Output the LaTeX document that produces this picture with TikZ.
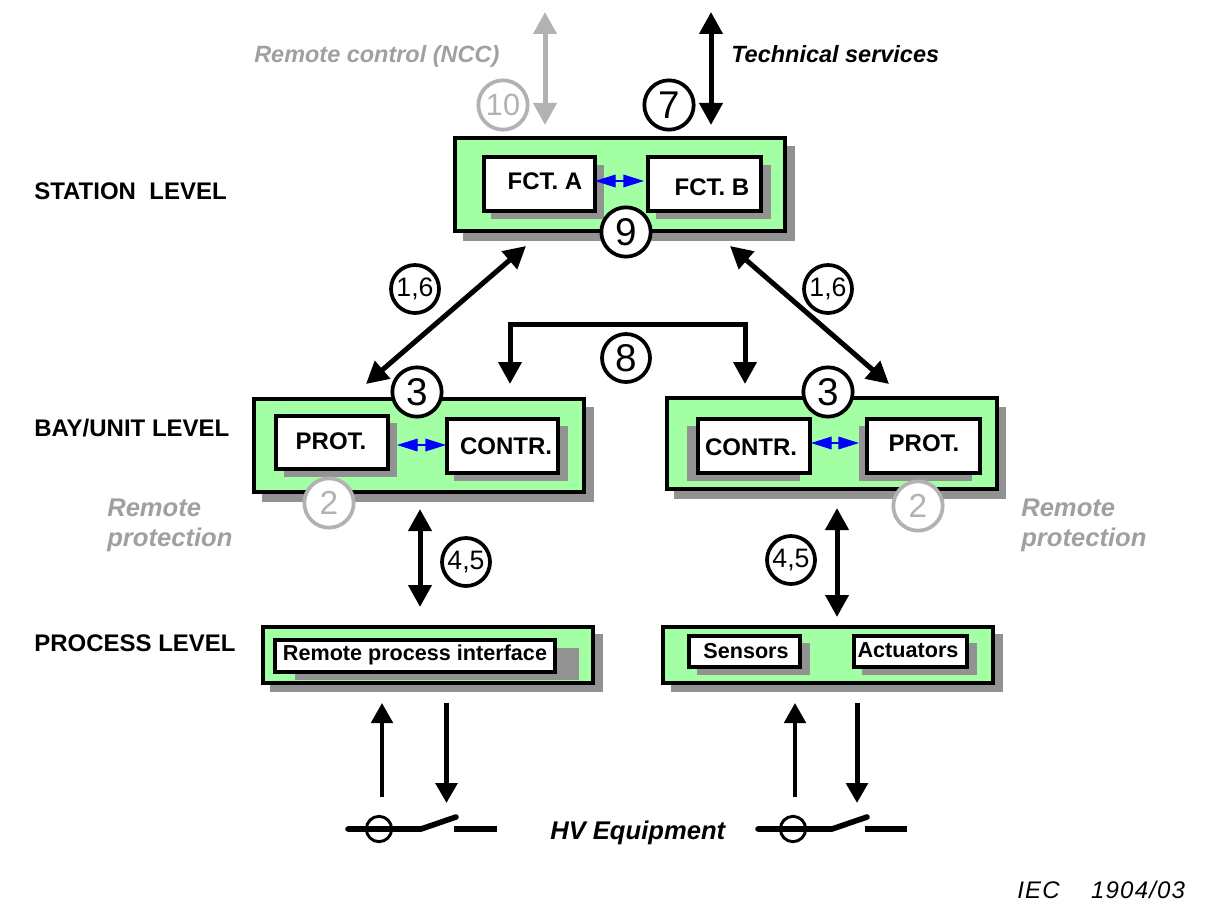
\documentclass[tikz,border=0pt]{standalone}
\usepackage{fontspec}
\setmainfont{Liberation Sans}
\newfontfamily\iecfont[LetterSpace=5]{Liberation Sans}
\usetikzlibrary{arrows.meta}
\definecolor{boxgreen}{HTML}{A3FFA3}
\definecolor{shade}{HTML}{929292}
\definecolor{soft}{HTML}{B2B2B2}
\definecolor{softtext}{HTML}{A0A0A0}
\definecolor{pureblue}{HTML}{0000FF}
\tikzset{
  shadowbox/.style={fill=shade,draw=none,inner sep=0pt,outer sep=0pt},
  levelbox/.style={fill=boxgreen,draw=black,line width=3pt,inner sep=0pt,outer sep=0pt},
  funcbox/.style={fill=white,draw=black,line width=2.6pt,inner sep=0pt,outer sep=0pt},
  funclabel/.style={font=\fontsize{18}{20}\selectfont\bfseries,inner sep=0pt,text=black},
  tinylabel/.style={funclabel,font=\fontsize{16.2}{18}\selectfont\bfseries},
  tag/.style={circle,draw=black,fill=white,line width=2.8pt,minimum size=37pt,inner sep=0pt,font=\fontsize{29}{31}\selectfont},
  smalltag/.style={tag,minimum size=36pt,font=\fontsize{20}{23}\selectfont},
  softtag/.style={tag,draw=soft,text=soft},
  leveltext/.style={anchor=west,inner sep=0pt,font=\fontsize{18}{20}\selectfont\bfseries},
  noteblack/.style={inner sep=0pt,font=\fontsize{17.6}{20}\selectfont\bfseries\itshape},
  notebig/.style={noteblack,anchor=west,font=\fontsize{19.2}{21}\selectfont\bfseries\itshape},
  notegrey/.style={notebig,text=softtext},
  bigarrow/.style={line width=3.75pt,{Triangle[length=16.5pt,width=17pt]}-{Triangle[length=16.5pt,width=17pt]}},
  softarrow/.style={bigarrow,draw=soft,color=soft},
  brarrow/.style={line width=3.75pt,-{Triangle[length=16.5pt,width=17pt]}},
  blueflow/.style={draw=pureblue,line width=1pt,{Triangle[length=15.5pt,width=9.5pt,color=pureblue]}-{Triangle[length=15.5pt,width=9.5pt,color=pureblue]}},
  hvup/.style={line width=3pt,-{Triangle[length=15pt,width=16pt]}},
  hvdown/.style={line width=3.75pt,-{Triangle[length=15pt,width=16pt]}},
  hvline/.style={line width=4.2pt},
  hvring/.style={circle,draw=black,line width=2.2pt,minimum size=19pt,inner sep=0pt},
}
\newcommand{\rbox}[6]{%
  \pgfmathsetmacro\rw{(#5-#3)*.75}\pgfmathsetmacro\rh{(#6-#4)*.75}%
  \node[#2,minimum width=\rw pt,minimum height=\rh pt] (#1) at ({(#3+#5)/2},{(#4+#6)/2}) {};}
\begin{document}
\begin{tikzpicture}[x=.75pt,y=-.75pt]
\useasboundingbox (0,0) rectangle (1216,920);
% station
\rbox{sts}{shadowbox}{463}{146}{795}{241}
\rbox{sta}{levelbox}{455}{138}{785}{231}
\rbox{fas}{shadowbox}{491}{165}{604}{219}
\rbox{fbs}{shadowbox}{656}{165}{771}{219}
\rbox{fa}{funcbox}{484}{157}{595}{211}
\rbox{fb}{funcbox}{648}{157}{761}{211}
\node[funclabel] (fal) at (545,181) {FCT. A};
\node[funclabel] (fbl) at (712,187) {FCT. B};
% bay left
\rbox{bls}{shadowbox}{262}{407}{594}{502}
\rbox{bl}{levelbox}{254}{399}{584}{492}
\rbox{pls}{shadowbox}{284}{423}{397}{477}
\rbox{cls}{shadowbox}{454}{426}{568}{481}
\rbox{pl}{funcbox}{276}{416}{388}{469}
\rbox{cl}{funcbox}{447}{419}{558}{473}
\node[funclabel] (pll) at (331,441) {PROT.};
\node[funclabel] (cll) at (506,446) {CONTR.};
% bay right
\rbox{brs}{shadowbox}{674}{407}{1006}{499}
\rbox{br}{levelbox}{667}{398}{997}{489}
\rbox{crs}{shadowbox}{687}{426}{800}{481}
\rbox{prs}{shadowbox}{859}{426}{972}{481}
\rbox{cr}{funcbox}{698}{419}{810}{473}
\rbox{pr}{funcbox}{867}{419}{980}{473}
\node[funclabel] (crl) at (751,447) {CONTR.};
\node[funclabel] (prl) at (924,443) {PROT.};
% process left
\rbox{pcs}{shadowbox}{270}{634}{603}{692}
\rbox{pc}{levelbox}{263}{627}{593}{683}
\rbox{rps}{shadowbox}{295}{648}{579}{680}
\rbox{rp}{funcbox}{275}{640}{555}{672}
\node[tinylabel] (rpl) at (415,655) {Remote process interface};
% process right
\rbox{qcs}{shadowbox}{671}{634}{1003}{692}
\rbox{qc}{levelbox}{663}{627}{993}{683}
\rbox{ses}{shadowbox}{697}{643}{810}{675}
\rbox{acs}{shadowbox}{862}{643}{977}{675}
\rbox{se}{funcbox}{689}{636}{800}{667}
\rbox{ac}{funcbox}{854}{636}{967}{667}
\node[tinylabel] (sel) at (746,651) {Sensors};
\node[tinylabel] (acl) at (908,650) {Actuators};
% connector ends
\coordinate (rcT) at (545,12); \coordinate (rcB) at (545,125);
\coordinate (tsT) at (711,12); \coordinate (tsB) at (711,125);
\coordinate (lsT) at (526,246); \coordinate (lsB) at (366,384);
\coordinate (rsT) at (730,246); \coordinate (rsB) at (889,384);
\coordinate (bl8) at (510,384); \coordinate (br8) at (745,384);
\coordinate (bc8a) at (510,324); \coordinate (bc8b) at (745,324);
\coordinate (lvT) at (420,509); \coordinate (lvB) at (420,607);
\coordinate (rvT) at (837,508); \coordinate (rvB) at (837,617);
\coordinate (hlu1) at (382,797); \coordinate (hlu2) at (382,703);
\coordinate (hld1) at (446.5,703); \coordinate (hld2) at (446.5,803);
\coordinate (hru1) at (795,797); \coordinate (hru2) at (795,703);
\coordinate (hrd1) at (857,703); \coordinate (hrd2) at (857,803);
\coordinate (fbA) at (595,181); \coordinate (fbB) at (644,181);
\coordinate (blA) at (397,445); \coordinate (blB) at (446,445);
\coordinate (brA) at (811,443); \coordinate (brB) at (859,443);
% arrows
\draw[softarrow] (rcT) -- (rcB);
\draw[bigarrow] (tsT) -- (tsB);
\draw[bigarrow] (lsT) -- (lsB);
\draw[bigarrow] (rsT) -- (rsB);
\draw[brarrow] (bc8a) -- (bl8);
\draw[brarrow] (bc8b) -- (br8);
\draw[line width=3.75pt,line cap=rect] (bc8a) -- (bc8b);
\draw[bigarrow] (lvT) -- (lvB);
\draw[bigarrow] (rvT) -- (rvB);
\draw[blueflow] (fbA) -- (fbB);
\draw[blueflow] (blA) -- (blB);
\draw[blueflow] (brA) -- (brB);
\draw[hvup] (hlu1) -- (hlu2);
\draw[hvdown] (hld1) -- (hld2);
\draw[hvup] (hru1) -- (hru2);
\draw[hvdown] (hrd1) -- (hrd2);
% switches
\coordinate (s1a) at (348,829); \coordinate (s1b) at (421,829); \coordinate (s1c) at (456,817);
\coordinate (s1d) at (454,829); \coordinate (s1e) at (497,829);
\draw[hvline,line cap=round] (s1a) -- (s1b) -- (s1c);
\draw[hvline] (s1d) -- (s1e);
\node[hvring] (r1) at (379,829) {};
\coordinate (s2a) at (758,829); \coordinate (s2b) at (832,829); \coordinate (s2c) at (867,817);
\coordinate (s2d) at (865,829); \coordinate (s2e) at (907,829);
\draw[hvline,line cap=round] (s2a) -- (s2b) -- (s2c);
\draw[hvline] (s2d) -- (s2e);
\node[hvring] (r2) at (793,829) {};
% numbered tags
\node[softtag,font=\fontsize{23}{25}\selectfont] (t10) at (503,105) {10};
\node[tag] (t7) at (669,105) {7};
\node[tag] (t9) at (626,232) {9};
\node[smalltag] (t16l) at (415,289) {1,6};
\node[smalltag] (t16r) at (828,289) {1,6};
\node[tag,minimum size=36pt] (t8) at (626,358) {8};
\node[tag] (t3l) at (417,392) {3};
\node[tag] (t3r) at (828,392) {3};
\node[softtag,font=\fontsize{25}{27}\selectfont] (t2l) at (329,503) {2};
\node[softtag,font=\fontsize{25}{27}\selectfont] (t2r) at (918,506) {2};
\node[smalltag] (t45l) at (466,562) {4,5};
\node[smalltag] (t45r) at (791,560) {4,5};
% texts
\node[noteblack,anchor=west,text=softtext] (ncc) at (254,56) {Remote control (NCC)};
\node[noteblack,anchor=west] (tech) at (731,54) {Technical services};
\node[leveltext] (lst) at (34,191) {STATION\ \ LEVEL};
\node[leveltext] (lba) at (34,428) {BAY/UNIT LEVEL};
\node[leveltext] (lpr) at (34,643) {PROCESS LEVEL};
\node[notegrey] (rp1) at (107,508) {Remote};
\node[notegrey] (rp2) at (107,540) {protection};
\node[notegrey] (rp3) at (1021,508) {Remote};
\node[notegrey] (rp4) at (1021,540) {protection};
\node[notebig] (hv) at (550,833) {HV Equipment};
\node[anchor=west,inner sep=0pt,font=\fontsize{18}{20}\selectfont\iecfont\itshape] (iec) at (1017,890) {IEC\ \ \ \ 1904/03};
\end{tikzpicture}
\end{document}
